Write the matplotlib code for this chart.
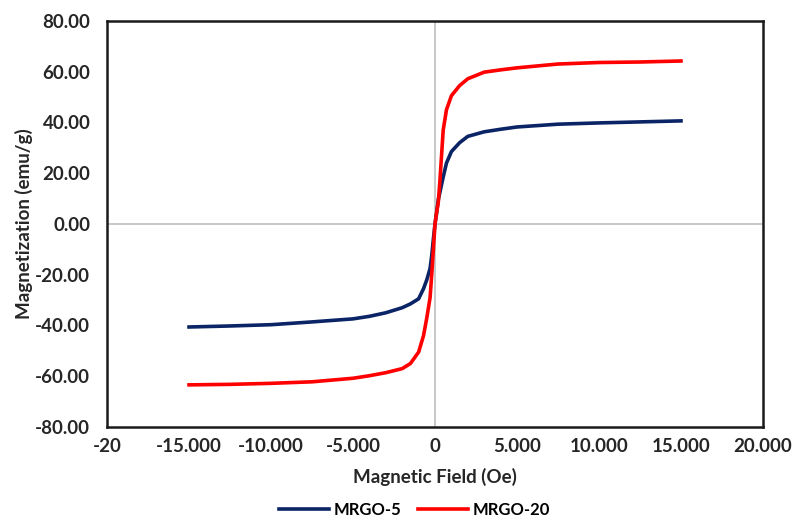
import matplotlib.pyplot as plt
from matplotlib.ticker import FixedLocator, FixedFormatter

plt.rcParams['font.family'] = ['Lato', 'DejaVu Sans']

# applied field (Oe)
field = [-15000, -12500, -10000, -7500, -5000, -4000, -3000, -2000, -1500, -1000,
         -700, -500, -300, -200, -100, 0, 100, 200, 300, 500, 700, 1000, 1500,
         2000, 3000, 4000, 5000, 7500, 10000, 12500, 15000]

mrgo5 = [-40.6, -40.2, -39.7, -38.6, -37.4, -36.4, -35.0, -33.0, -31.5, -29.5,
         -25.5, -22.0, -17.5, -12.5, -6.0, 0.0, 4.5, 9.5, 12.5, 18.5, 24.0, 28.5,
         32.0, 34.5, 36.3, 37.3, 38.2, 39.3, 39.8, 40.2, 40.6]

mrgo20 = [-63.4, -63.2, -62.8, -62.2, -60.8, -59.8, -58.6, -57.0, -55.0, -50.5,
          -44.0, -37.0, -29.0, -20.0, -10.0, 0.0, 4.5, 8.5, 17.0, 37.0, 45.0, 50.5,
          54.5, 57.2, 59.8, 60.7, 61.5, 63.0, 63.6, 63.8, 64.2]

xticks = [-20000, -15000, -10000, -5000, 0, 5000, 10000, 15000, 20000]
xticklabels = ['-20', '-15.000', '-10.000', '-5.000', '0', '5.000', '10.000', '15.000', '20.000']
yticks = [-80, -60, -40, -20, 0, 20, 40, 60, 80]
yticklabels = ['%.2f' % v for v in yticks]

fig = plt.figure(figsize=(7.97, 5.22), dpi=100)
ax = fig.add_axes([0.1343, 0.182, 0.823, 0.778])

ax.axhline(0, color='#BFBFBF', lw=1.2, zorder=1)
ax.axvline(0, color='#BFBFBF', lw=1.2, zorder=1)

ax.plot(field, mrgo5, color='#0B2466', lw=2.6, label='MRGO-5', zorder=3)
ax.plot(field, mrgo20, color='#FF0000', lw=2.6, label='MRGO-20', zorder=3)

ax.set_xlim(-20000, 20000)
ax.set_ylim(-80, 80)
ax.xaxis.set_major_locator(FixedLocator(xticks))
ax.xaxis.set_major_formatter(FixedFormatter(xticklabels))
ax.yaxis.set_major_locator(FixedLocator(yticks))
ax.yaxis.set_major_formatter(FixedFormatter(yticklabels))
ax.tick_params(length=0, labelsize=13.5, colors='#262626')
ax.tick_params(axis='x', pad=8)
ax.tick_params(axis='y', pad=12)
for lab in ax.get_xticklabels() + ax.get_yticklabels():
    lab.set_fontweight('bold')

for s in ax.spines.values():
    s.set_color('#1a1a1a')
    s.set_linewidth(1.8)

ax.set_xlabel('Magnetic Field (Oe)', fontsize=13.5, fontweight='bold', color='#262626', labelpad=9)
ax.set_ylabel('Magnetization (emu/g)', fontsize=13.5, fontweight='bold', color='#262626', labelpad=2)

fig.legend(loc='center', bbox_to_anchor=(0.52, 0.023), ncol=2, frameon=False,
           prop={'weight': 'bold', 'size': 12}, handlelength=3.0, columnspacing=1.0,
           handletextpad=0.3)

fig.savefig('out.png', dpi=100)
